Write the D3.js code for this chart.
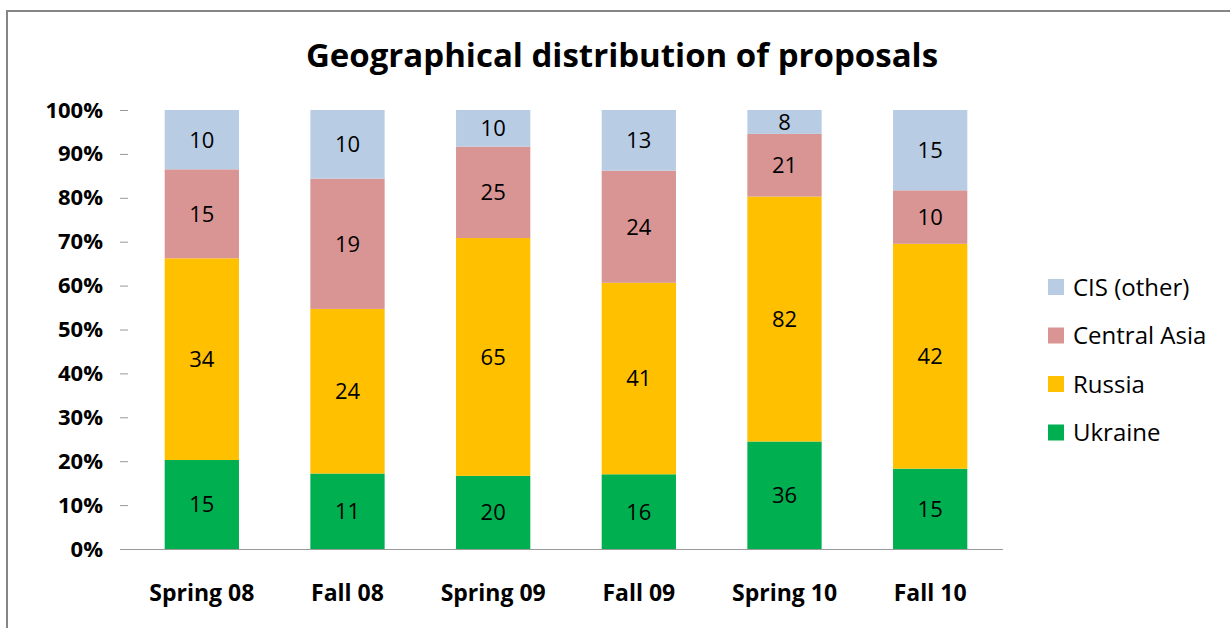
<!DOCTYPE html>
<meta charset="utf-8">
<style>
body { margin: 0; background: #fff; }
svg text { font-family: 'Open Sans', 'DejaVu Sans', sans-serif; fill: #000; }
</style>
<body>
<div id="chart"></div>
<script src="https://cdn.jsdelivr.net/npm/d3@7"></script>
<script>
const terms = ["Spring 08", "Fall 08", "Spring 09", "Fall 09", "Spring 10", "Fall 10"];
const regions = ["Ukraine", "Russia", "Central Asia", "CIS (other)"];
const ukraine = [15, 11, 20, 16, 36, 15];
const russia = [34, 24, 65, 41, 82, 42];
const centralAsia = [15, 19, 25, 24, 21, 10];
const cisOther = [10, 10, 10, 13, 8, 15];
const yTicks = [0, 0.1, 0.2, 0.3, 0.4, 0.5, 0.6, 0.7, 0.8, 0.9, 1];
const colors = ["#00B050", "#FFC000", "#D99594", "#B8CCE4"];

const W = 1230, H = 628;
const svg = d3.select("#chart").append("svg")
  .attr("width", W).attr("height", H);

// chart border (only top and left visible in the frame)
svg.append("rect")
  .attr("x", 7).attr("y", 11)
  .attr("width", W + 20).attr("height", H + 20)
  .attr("fill", "none").attr("stroke", "#868686").attr("stroke-width", 2);

const rows = terms.map((t, i) => ({
  term: t,
  "Ukraine": ukraine[i],
  "Russia": russia[i],
  "Central Asia": centralAsia[i],
  "CIS (other)": cisOther[i]
}));

const stack = d3.stack().keys(regions).offset(d3.stackOffsetExpand);
const series = stack(rows);

const x = d3.scaleBand().domain(terms).range([129, 1003]).paddingInner(0.49).paddingOuter(0.245);
const y = d3.scaleLinear().domain([0, 1]).range([549, 110]);
const color = d3.scaleOrdinal().domain(regions).range(colors);

svg.append("text")
  .attr("x", 622).attr("y", 67)
  .attr("text-anchor", "middle")
  .style("font-size", "33px").style("font-weight", "bold")
  .text("Geographical distribution of proposals");

// y axis: ticks only, no domain line
const yAxis = svg.append("g")
  .attr("transform", "translate(128,0)")
  .call(d3.axisLeft(y).tickValues(yTicks).tickFormat(d3.format(".0%")).tickSize(8).tickPadding(17));
yAxis.select(".domain").remove();
yAxis.selectAll(".tick line").attr("stroke", "#999");
yAxis.selectAll("text").style("font-size", "22px").style("font-weight", "bold")
  .style("font-family", "'Open Sans', sans-serif");

const layers = svg.selectAll(".layer")
  .data(series).enter().append("g")
  .attr("class", "layer")
  .attr("fill", d => color(d.key));

layers.selectAll("rect")
  .data(d => d).enter().append("rect")
  .attr("x", d => x(d.data.term))
  .attr("y", d => y(d[1]))
  .attr("width", x.bandwidth())
  .attr("height", d => y(d[0]) - y(d[1]));

layers.selectAll(".val")
  .data(d => d.map(p => ({p: p, key: d.key}))).enter().append("text")
  .attr("class", "val")
  .attr("x", d => x(d.p.data.term) + x.bandwidth() / 2)
  .attr("y", d => (y(d.p[0]) + y(d.p[1])) / 2)
  .attr("dy", "0.36em")
  .attr("text-anchor", "middle")
  .style("font-size", "22px")
  .style("fill", "#000")
  .text(d => d.p.data[d.key]);

// x axis
const xAxis = svg.append("g")
  .attr("transform", "translate(0,549)")
  .call(d3.axisBottom(x).tickSize(0).tickPadding(36));
xAxis.select(".domain").attr("d", "M120,0.5H1003").attr("stroke", "#999");
xAxis.selectAll("text").style("font-size", "23px").style("font-weight", "bold")
  .style("font-family", "'Open Sans', sans-serif");

// legend, top to bottom in reverse stack order
const legendItems = regions.slice().reverse();
const legend = svg.selectAll(".legend")
  .data(legendItems).enter().append("g")
  .attr("class", "legend")
  .attr("transform", (d, i) => "translate(1048," + (287 + i * 48.5) + ")");

legend.append("rect")
  .attr("x", 0).attr("y", -8)
  .attr("width", 16).attr("height", 16)
  .attr("fill", d => color(d));

legend.append("text")
  .attr("x", 25).attr("y", 0).attr("dy", "0.36em")
  .style("font-size", "24px")
  .text(d => d);
</script>
</body>
